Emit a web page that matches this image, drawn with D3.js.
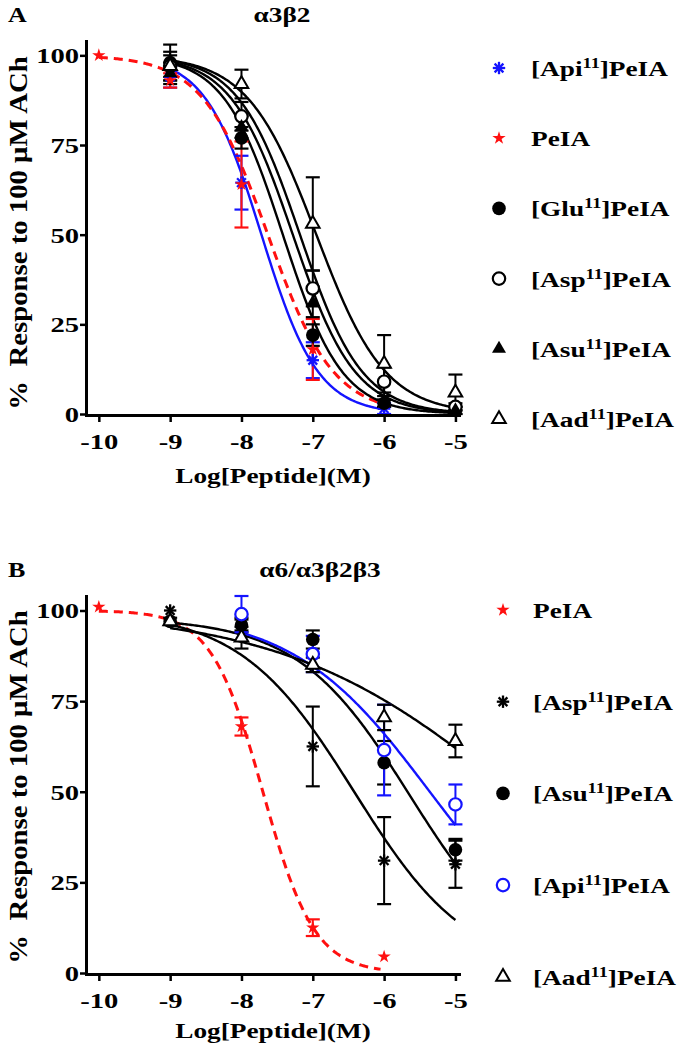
<!DOCTYPE html>
<html><head><meta charset="utf-8">
<script src="https://cdn.jsdelivr.net/npm/d3@7"></script>
<style>
body{margin:0;background:#fff;}
svg{display:block;font-family:"Liberation Serif","Times New Roman",serif;font-weight:bold;}
</style></head><body>
<svg id="chart"></svg>
<script>
// ================= DATA =================
const xTickValues = [-10, -9, -8, -7, -6, -5];
const yTickValues = [0, 25, 50, 75, 100];
const logConc = [-10, -9, -8, -7, -6, -5];
const yLabelText = "%\u00A0\u00A0Response to 100 \u03BCM ACh";
const xLabelText = "Log[Peptide](M)";

// ---- Panel A : α3β2 ----
const titleA = "\u03B13\u03B22";
const seriesA = ["Api", "PeIA", "Glu", "Asp", "Asu", "Aad"];
const a_Api = [null, 94, 64.5, 15, 1.5, null];
const a_ApiErr = [null, 3, 7.5, 5, 1.5, null];
const a_PeIA = [100, 93, 64, 18, null, null];
const a_PeIAErr = [null, 2, 12, 8.5, null, null];
const a_Glu = [null, 98, 77, 22, 3, 1];
const a_GluErr = [null, 5, 3, 3, 1, 1];
const a_Asp = [null, 97, 83, 35, 9, 2];
const a_AspErr = [null, 3, 4, 5, 4, 1];
const a_Asu = [null, 95, 80, 31, 3, 1];
const a_AsuErr = [null, 3, 3, 4, 1, 1];
const a_Aad = [null, 97, 92, 53, 14, 6];
const a_AadErr = [null, 4, 4, 13, 8, 5];
// fitted curve parameters (logIC50, Hill slope, top, bottom, fitted range)
const a_logIC50 = [-7.72, -7.63, -7.42, -7.18, -7.28, -6.95];
const a_hill = [1.1, 0.95, 1.05, 1.0, 1.0, 0.9];
const a_top = [100, 100, 100, 100, 100, 100];
const a_bottom = [0, 0, 0, 0, 0, 0];
const a_fitFrom = [-9, -10, -9, -9, -9, -9];
const a_fitTo = [-6, -6, -5, -5, -5, -5];

// ---- Panel B : α6/α3β2β3 ----
const titleB = "\u03B16/\u03B13\u03B22\u03B23";
const seriesB = ["PeIA", "Asp", "Asu", "Api", "Aad"];
const b_PeIA = [101, null, 68, 12.5, 4.5, null];
const b_PeIAErr = [null, null, 2.5, 2.3, null, null];
const b_Asp = [null, 100, 96, 62.5, 31, 30];
const b_AspErr = [null, null, 1.5, 11, 12, 6.5];
const b_Asu = [null, 97, 96, 92, 58, 34];
const b_AsuErr = [null, null, 2, 2.5, 6, 3];
const b_Api = [null, null, 99, 88, 61.5, 46.5];
const b_ApiErr = [null, null, 5, 5, 12.5, 5.5];
const b_Aad = [null, 97, 92.5, 85, 70.5, 64];
const b_AadErr = [null, 1, 3, 2, 3.5, 4.5];
const b_logIC50 = [-7.7, -6.42, -5.64, -5.36, -4.21];
const b_hill = [1.2, 0.54, 0.55, 0.45, 0.27];
const b_top = [100, 100, 98, 100, 100];
const b_bottom = [0, 0, 0, 0, 0];
const b_fitFrom = [-10, -9, -9, -8, -9];
const b_fitTo = [-6.05, -5, -5, -5, -5];

// ================= STYLE =================
const SX = 1.3;          // horizontal stretch of text seen in reference
const FS = 21;
const BLUE = "#1414ff", RED = "#ff1010", BLACK = "#000";
const styleA = {
  Api: {marker: "asterisk", color: BLUE, line: "solid"},
  PeIA: {marker: "star", color: RED, line: "dash"},
  Glu: {marker: "circle", color: BLACK, line: "solid"},
  Asp: {marker: "circleOpen", color: BLACK, line: "solid"},
  Asu: {marker: "tri", color: BLACK, line: "solid"},
  Aad: {marker: "triOpen", color: BLACK, line: "solid"}
};
const styleB = {
  PeIA: {marker: "star", color: RED, line: "dash"},
  Asp: {marker: "asterisk", color: BLACK, line: "solid"},
  Asu: {marker: "circle", color: BLACK, line: "solid"},
  Api: {marker: "circleOpen", color: BLUE, line: "solid"},
  Aad: {marker: "triOpen", color: BLACK, line: "solid"}
};

const W = 683, H = 1050;
const svg = d3.select("#chart").attr("width", W).attr("height", H);

function hill(top, bottom, logIC50, h, x) {
  return bottom + (top - bottom) / (1 + Math.pow(10, (x - logIC50) * h));
}

function stretchedText(g, x, y, str, anchor, size) {
  return g.append("text")
    .attr("transform", `translate(${x},${y}) scale(${SX},1)`)
    .attr("text-anchor", anchor)
    .attr("font-size", size)
    .attr("fill", "#000")
    .text(str);
}

function drawMarker(g, type, color, cx, cy) {
  const t = `translate(${cx},${cy})`;
  if (type === "star") {
    g.append("path").attr("d", d3.symbol(d3.symbolStar, 55)()).attr("transform", t).attr("fill", color);
  } else if (type === "asterisk") {
    const a = g.append("g").attr("transform", t);
    const r = 6.2;
    for (let k = 0; k < 4; k++) {
      const ang = k * Math.PI / 4;
      a.append("line").attr("x1", -r * Math.cos(ang)).attr("y1", -r * Math.sin(ang))
        .attr("x2", r * Math.cos(ang)).attr("y2", r * Math.sin(ang))
        .attr("stroke", color).attr("stroke-width", 2.3);
    }
    a.append("circle").attr("r", 2.2).attr("fill", color);
  } else if (type === "circle") {
    g.append("circle").attr("cx", cx).attr("cy", cy).attr("r", 6.8).attr("fill", color);
  } else if (type === "circleOpen") {
    g.append("circle").attr("cx", cx).attr("cy", cy).attr("r", 6.2).attr("fill", "#fff")
      .attr("stroke", color).attr("stroke-width", 2.2);
  } else if (type === "tri") {
    g.append("path").attr("d", d3.symbol(d3.symbolTriangle, 85)()).attr("transform", t).attr("fill", color);
  } else if (type === "triOpen") {
    g.append("path").attr("d", d3.symbol(d3.symbolTriangle, 80)()).attr("transform", t)
      .attr("fill", "#fff").attr("stroke", color).attr("stroke-width", 2);
  }
}

function legendLabel(g, x, y, name) {
  const t = g.append("text")
    .attr("transform", `translate(${x},${y}) scale(${SX},1)`)
    .attr("font-size", FS).attr("fill", "#000");
  if (name === "PeIA") { t.text("PeIA"); return; }
  t.append("tspan").text("[" + name);
  t.append("tspan").attr("font-size", 14).attr("dy", -8).text("11");
  t.append("tspan").attr("dy", 8).text("]PeIA");
}

function drawPanel(cfg) {
  const g = svg.append("g");
  const x = d3.scaleLinear().domain([-10.18, -4.95]).range([86, 459]);
  const y = d3.scaleLinear().domain([0, 104]).range([cfg.yBase, cfg.yTop]);

  // letter + title
  stretchedText(g, 8, cfg.titleBase, cfg.letter, "start", 20);
  stretchedText(g, cfg.titleX, cfg.titleBase, cfg.title, "middle", 21);

  // curves
  const line = d3.line().x(d => x(d[0])).y(d => y(d[1]));
  cfg.series.forEach((s, i) => {
    const st = cfg.style[s];
    const pts = d3.range(cfg.fitFrom[i], cfg.fitTo[i] + 1e-9, 0.02)
      .map(v => [v, hill(cfg.top[i], cfg.bottom[i], cfg.logIC50[i], cfg.hill[i], v)]);
    pts.push([cfg.fitTo[i], hill(cfg.top[i], cfg.bottom[i], cfg.logIC50[i], cfg.hill[i], cfg.fitTo[i])]);
    g.append("path").attr("d", line(pts)).attr("fill", "none")
      .attr("stroke", st.color)
      .attr("stroke-width", st.line === "dash" ? 3 : 2.4)
      .attr("stroke-dasharray", st.line === "dash" ? "9,6" : null);
  });

  // error bars
  cfg.series.forEach((s, i) => {
    const st = cfg.style[s];
    const means = cfg.means[i], errs = cfg.errs[i];
    logConc.forEach((c, j) => {
      if (means[j] == null || errs[j] == null) return;
      const cx = x(c), y1 = y(means[j] + errs[j]), y2 = y(Math.max(0, means[j] - errs[j]));
      g.append("line").attr("x1", cx).attr("x2", cx).attr("y1", y1).attr("y2", y2)
        .attr("stroke", st.color).attr("stroke-width", 2);
      [y1, y2].forEach(yy => g.append("line").attr("x1", cx - 7).attr("x2", cx + 7)
        .attr("y1", yy).attr("y2", yy).attr("stroke", st.color).attr("stroke-width", 2.2));
    });
  });

  // markers
  cfg.series.forEach((s, i) => {
    const st = cfg.style[s];
    cfg.means[i].forEach((m, j) => {
      if (m == null) return;
      drawMarker(g, st.marker, st.color, x(logConc[j]), y(m));
    });
  });

  // axes
  const fmt = d => String(d);
  const ya = g.append("g").attr("transform", "translate(86,0)")
    .call(d3.axisLeft(y).tickValues(yTickValues).tickFormat(fmt).tickSize(6).tickSizeOuter(0).tickPadding(7));
  const xa = g.append("g").attr("transform", `translate(0,${cfg.yBase + 1})`)
    .call(d3.axisBottom(x).tickValues(xTickValues).tickFormat(fmt).tickSize(7).tickSizeOuter(0).tickPadding(11));
  [ya, xa].forEach(a => {
    a.attr("font-family", null).attr("font-size", null);
    a.select(".domain").attr("stroke", "#000").attr("stroke-width", 3).attr("stroke-linecap", "square");
    a.selectAll(".tick line").attr("stroke", "#000").attr("stroke-width", 2.5);
    a.selectAll(".tick text").attr("font-size", FS + 1).attr("fill", "#000");
  });
  ya.selectAll(".tick text").attr("x", -7 / SX).attr("transform", `scale(${SX},1)`).attr("dy", "0.34em");
  xa.selectAll(".tick text").attr("transform", `scale(${SX},1)`).attr("dy", "0.72em");

  // axis titles
  stretchedText(g, 273, cfg.xTitleBase, xLabelText, "middle", FS);
  g.append("text")
    .attr("transform", `translate(27,${cfg.yLabelMid}) rotate(-90) scale(1.15,1)`)
    .attr("text-anchor", "middle").attr("font-size", 25).attr("fill", "#000")
    .text(yLabelText);

  // legend
  cfg.series.forEach((s, k) => {
    const i = cfg.legendOrder[k];
    const name = cfg.series[i];
    const st = cfg.style[name];
    const ly = cfg.legY0 + k * cfg.legDy;
    drawMarker(g, st.marker, st.color, cfg.legMx, ly);
    legendLabel(g, cfg.legTx, ly + 8, name);
  });
}

drawPanel({
  letter: "A", title: titleA, titleX: 282, titleBase: 22,
  yBase: 414, yTop: 41, xTitleBase: 483, yLabelMid: 233,
  series: seriesA, style: styleA,
  means: [a_Api, a_PeIA, a_Glu, a_Asp, a_Asu, a_Aad],
  errs: [a_ApiErr, a_PeIAErr, a_GluErr, a_AspErr, a_AsuErr, a_AadErr],
  logIC50: a_logIC50, hill: a_hill, top: a_top, bottom: a_bottom,
  fitFrom: a_fitFrom, fitTo: a_fitTo,
  legendOrder: [0, 1, 2, 3, 4, 5], legMx: 499, legTx: 531, legY0: 68, legDy: 70.2
});

drawPanel({
  letter: "B", title: titleB, titleX: 320, titleBase: 577,
  yBase: 973, yTop: 596, xTitleBase: 1038, yLabelMid: 787,
  series: seriesB, style: styleB,
  means: [b_PeIA, b_Asp, b_Asu, b_Api, b_Aad],
  errs: [b_PeIAErr, b_AspErr, b_AsuErr, b_ApiErr, b_AadErr],
  logIC50: b_logIC50, hill: b_hill, top: b_top, bottom: b_bottom,
  fitFrom: b_fitFrom, fitTo: b_fitTo,
  legendOrder: [0, 1, 2, 3, 4], legMx: 503, legTx: 533, legY0: 610, legDy: 91.7
});
</script>
</body></html>
